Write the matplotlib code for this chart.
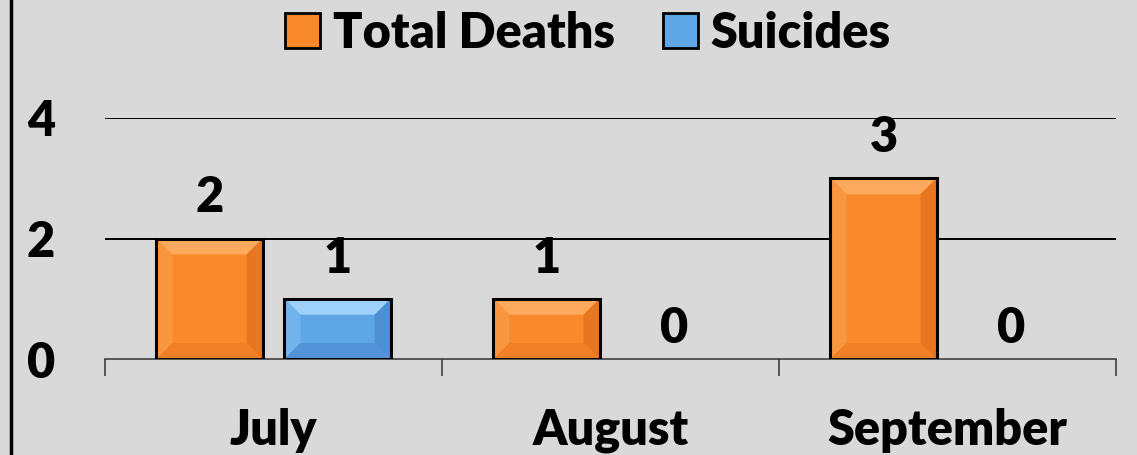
import matplotlib
matplotlib.use("Agg")
import matplotlib.pyplot as plt
from matplotlib.patches import Polygon
from matplotlib.lines import Line2D
import numpy as np

categories = ["July", "August", "September"]
series_names = ["Total Deaths", "Suicides"]
total_deaths = [2, 1, 3]
suicides = [1, 0, 0]
y_ticks = [0, 2, 4]

BG = "#d9d9d9"
plt.rcParams['font.family'] = ['Lato', 'DejaVu Sans']
plt.rcParams['font.weight'] = 'heavy'
FS = 35
FW = 'heavy'

fig = plt.figure(figsize=(11.37, 4.55), dpi=100, facecolor=BG)
ax = fig.add_axes([105/1137, (455-359)/455, (1116-105)/1137, (359-118)/455])
ax.set_facecolor(BG)

x = np.arange(len(categories))
w = 0.315
off = 0.19

styles = [
    dict(base="#f88a2c", top="#fdaa5e", left="#f99640", right="#e8751f", bottom="#f28026"),
    dict(base="#5ea6e6", top="#9fd2fb", left="#72b3ec", right="#4d8fd2", bottom="#5394d8"),
]

def bevel(ax, rect, st):
    x0, y0 = rect.get_x(), rect.get_y()
    ww, hh = rect.get_width(), rect.get_height()
    if hh <= 0:
        return
    inv = ax.transData.inverted()
    p0 = ax.transData.transform((x0, y0))
    bx = inv.transform((p0[0] + 16, p0[1]))[0] - x0
    by = y0 - inv.transform((p0[0], p0[1] - 16))[1]
    bx = min(bx, ww / 2)
    by = min(by, hh / 2)
    x1, y1 = x0 + ww, y0 + hh
    polys = [
        ([(x0, y1), (x1, y1), (x1 - bx, y1 - by), (x0 + bx, y1 - by)], st["top"]),
        ([(x0, y0), (x0, y1), (x0 + bx, y1 - by), (x0 + bx, y0 + by)], st["left"]),
        ([(x1, y0), (x1, y1), (x1 - bx, y1 - by), (x1 - bx, y0 + by)], st["right"]),
        ([(x0, y0), (x1, y0), (x1 - bx, y0 + by), (x0 + bx, y0 + by)], st["bottom"]),
    ]
    for pts, c in polys:
        ax.add_patch(Polygon(pts, closed=True, facecolor=c, edgecolor='none', zorder=3.5))
    ax.add_patch(plt.Rectangle((x0, y0), ww, hh, facecolor='none', edgecolor='black', lw=2.2, zorder=4))

ax.set_xlim(-0.5, 2.5)
ax.set_ylim(0, 4)
fig.canvas.draw()

for i, (vals, name) in enumerate(zip([total_deaths, suicides], series_names)):
    pos = x - off if i == 0 else x + off
    bars = ax.bar(pos, vals, w, color=styles[i]["base"], edgecolor='none', lw=0, zorder=3, label=name)
    for r, v in zip(bars, vals):
        bevel(ax, r, styles[i])
        ax.annotate(str(v), (r.get_x() + r.get_width()/2, v), xytext=(0, 13 if v > 0 else 6),
                    textcoords='offset points', ha='center', va='bottom',
                    fontsize=FS, fontweight=FW, color='black', zorder=5)

for yv in y_ticks[1:]:
    ax.axhline(yv, color='black', lw=1.4, zorder=1)

for s in ['top', 'right', 'left']:
    ax.spines[s].set_visible(False)
ax.spines['bottom'].set_color('#404040')
ax.spines['bottom'].set_linewidth(1.2)

ax.set_yticks(y_ticks)
ax.set_yticklabels([str(v) for v in y_ticks], fontsize=FS, fontweight=FW)
ax.tick_params(axis='y', length=0, pad=36)

ax.set_xticks(x)
ax.set_xticklabels(categories, fontsize=FS, fontweight=FW)
ax.tick_params(axis='x', which='major', length=0, pad=35)
ax.set_xticks([-0.5, 0.5, 1.5, 2.5], minor=True)
ax.tick_params(axis='x', which='minor', length=12, width=1.2, color='#404040')

handles = [plt.Rectangle((0, 0), 1, 1, facecolor=styles[0]["base"], edgecolor='black', lw=2),
           plt.Rectangle((0, 0), 1, 1, facecolor=styles[1]["base"], edgecolor='black', lw=2)]
fig.legend(handles, series_names, loc='center', bbox_to_anchor=(588/1137, 1 - 33/455),
           ncol=2, frameon=False, prop={'weight': FW, 'size': FS},
           handlelength=0.72, handleheight=0.72, handletextpad=0.25, columnspacing=1.0)

fig.add_artist(Line2D([11/1137, 11/1137], [0, 1], color='black', lw=2.5, transform=fig.transFigure))

fig.savefig("out.png", dpi=100, facecolor=BG)
